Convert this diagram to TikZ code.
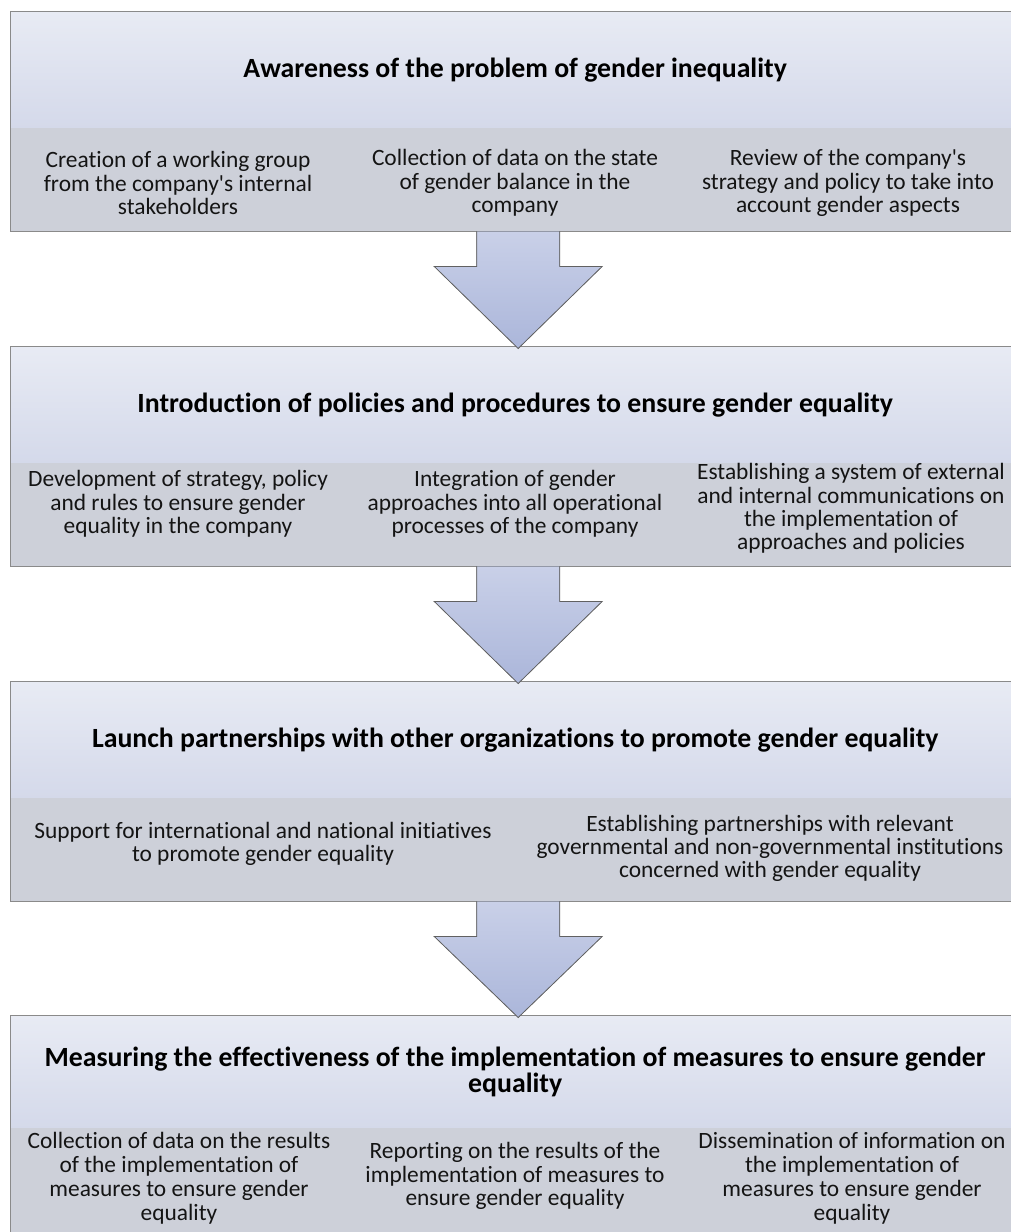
\documentclass[tikz,border=0pt]{standalone}
\usepackage{fontspec}
\setmainfont{Carlito}[Ligatures={TeXOff,CommonOff}]
\usetikzlibrary{calc}
\definecolor{headtop}{HTML}{E8EBF4}
\definecolor{headbot}{HTML}{D4D9EA}
\definecolor{bandcol}{HTML}{CDD0D9}
\definecolor{arrtop}{HTML}{C9D0E8}
\definecolor{arrbot}{HTML}{ABB6DA}
\definecolor{edgecol}{HTML}{8A8A8A}
\pgfdeclarelayer{bg}
\pgfsetlayers{bg,main}
\tikzset{
  headbox/.style={rectangle, minimum width=1010pt, minimum height=#1, anchor=north west,
    inner sep=0pt, top color=headtop, bottom color=headbot, draw=none,
    font=\fontsize{27.8}{25.5}\selectfont\bfseries, align=center, text=black},
  bandbox/.style={rectangle, minimum width=1010pt, minimum height=#1, anchor=north west,
    inner sep=0pt, fill=bandcol, draw=none},
  coltext/.style={font=\fontsize{23.4}{23.3}\selectfont, align=center, inner sep=0pt, text=black!92},
  arrowfill/.style={top color=arrtop, bottom color=arrbot, draw=none},
  arrowedge/.style={draw=black!62, line width=0.8pt, line join=miter},
  boxedge/.style={draw=edgecol, line width=1pt},
  boxshadow/.style={fill=black, opacity=#1},
}
\begin{document}
\begin{tikzpicture}[x=1pt, y=-1pt]
\clip (0,0) rectangle (1011,1232);
\fill[white] (0,0) rectangle (1011,1232);

% Block 1
\node[headbox=117pt] (h1) at (10,11) {Awareness of the problem of gender inequality};
\node[bandbox=103pt] (k1) at (10,128) {};
\node[coltext] (c11) at (178,183) {Creation of a working group\\from the company's internal\\stakeholders};
\node[coltext] (c12) at (515,183) {Collection of data on the state\\of gender balance in the\\company};
\node[coltext] (c13) at (848,183) {Review of the company's\\strategy and policy to take into\\account gender aspects};

% Block 2
\node[headbox=117pt] (h2) at (10,346) {Introduction of policies and procedures to ensure gender equality};
\node[bandbox=103pt] (k2) at (10,463) {};
\node[coltext] (c21) at (178,504) {Development of strategy, policy\\and rules to ensure gender\\equality in the company};
\node[coltext] (c22) at (515,504) {Integration of gender\\approaches into all operational\\processes of the company};
\node[coltext] (c23) at (851,508.5) {Establishing a system of external\\and internal communications on\\the implementation of\\approaches and policies};

% Block 3
\node[headbox=117pt] (h3) at (10,681) {Launch partnerships with other organizations to promote gender equality};
\node[bandbox=103pt] (k3) at (10,798) {};
\node[coltext] (c31) at (263,844) {Support for international and national initiatives\\to promote gender equality};
\node[coltext] (c32) at (770,848.5) {Establishing partnerships with relevant\\governmental and non-governmental institutions\\concerned with gender equality};

% Block 4
\node[headbox=113pt] (h4) at (10,1015) {Measuring the effectiveness of the implementation of measures to ensure gender\\equality};
\node[bandbox=110pt] (k4) at (10,1128) {};
\node[coltext, font=\fontsize{23.4}{24}\selectfont] (c41) at (179,1178) {Collection of data on the results\\of the implementation of\\measures to ensure gender\\equality};
\node[coltext] (c42) at (515,1176) {Reporting on the results of the\\implementation of measures to\\ensure gender equality};
\node[coltext, font=\fontsize{23.4}{24}\selectfont] (c43) at (852,1178) {Dissemination of information on\\the implementation of\\measures to ensure gender\\equality};

% shadows and borders
\begin{pgfonlayer}{bg}
  \foreach \h/\k in {h1/k1,h2/k2,h3/k3,h4/k4}{
    \fill[boxshadow=0.10] ([shift={(1pt,-1pt)}]\h.north west) rectangle ([shift={(3pt,-5pt)}]\k.south east);
    \fill[boxshadow=0.14] ([shift={(1pt,-1pt)}]\h.north west) rectangle ([shift={(2pt,-3pt)}]\k.south east);
  }
\end{pgfonlayer}
\foreach \h/\k in {h1/k1,h2/k2,h3/k3,h4/k4}{
  \draw[boxedge] (\h.north west) rectangle (\k.south east);
}

% block arrows
\foreach \a/\b in {k1/h2,k2/h3,k3/h4}{
  \fill[arrowfill] let \p1=([xshift=3pt]\a.south), \p2=([xshift=3pt]\b.north) in
    (\x1-41.5pt,\y1) -- (\x1+41.5pt,\y1) -- (\x1+41.5pt,\y1-35pt) -- (\x1+84pt,\y1-35pt)
    -- (\x1,\y2-2.5pt) -- (\x1-84pt,\y1-35pt) -- (\x1-41.5pt,\y1-35pt) -- cycle;
  \draw[arrowedge] let \p1=([xshift=3pt]\a.south), \p2=([xshift=3pt]\b.north) in
    (\x1+41.5pt,\y1) -- (\x1+41.5pt,\y1-35pt) -- (\x1+84pt,\y1-35pt)
    -- (\x1,\y2-2.5pt) -- (\x1-84pt,\y1-35pt) -- (\x1-41.5pt,\y1-35pt) -- (\x1-41.5pt,\y1);
}
\end{tikzpicture}
\end{document}
